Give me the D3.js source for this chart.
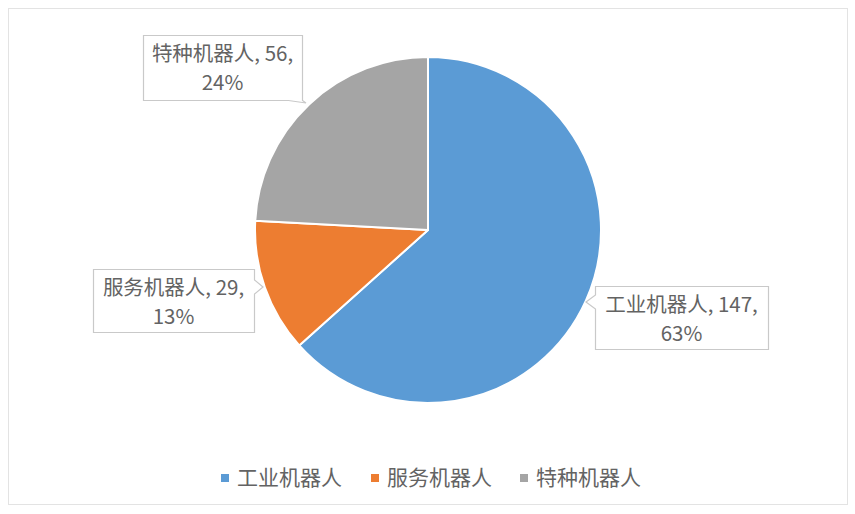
<!DOCTYPE html>
<html><head><meta charset="utf-8">
<script src="https://cdn.jsdelivr.net/npm/d3@7"></script>
<style>
html,body{margin:0;padding:0;background:#fff;}
svg{display:block;font-family:"Noto Sans CJK SC","Noto Sans",sans-serif;}
</style></head>
<body>
<svg id="c" width="855" height="514"></svg>
<script>
const categories = ["工业机器人", "服务机器人", "特种机器人"];
const values = [147, 29, 56];
const percents = ["63%", "13%", "24%"];
const colors = ["#5B9BD5", "#ED7D31", "#A5A5A5"];

// label box layout (x, y, w, h, pointer side, pointer tip)
const boxLayout = [
  {x: 595, y: 286, w: 173, h: 63, side: "left", tip: [586, 302]},
  {x: 93, y: 269, w: 161, h: 63, side: "right", tip: [263, 287]},
  {x: 143, y: 35, w: 159, h: 65, side: "bottom", tip: [306, 103]}
];

const svg = d3.select("#c");
svg.append("rect").attr("x", 8.5).attr("y", 8.5).attr("width", 839).attr("height", 496)
  .attr("fill", "#fff").attr("stroke", "#e3e3e3").attr("stroke-width", 1);

const cx = 428, cy = 230, r = 173;
const pie = d3.pie().sort(null).value(d => d)(values);
const arc = d3.arc().innerRadius(0).outerRadius(r);
const g = svg.append("g").attr("transform", `translate(${cx},${cy})`);
g.selectAll("path").data(pie).join("path")
  .attr("d", arc).attr("fill", (d, i) => colors[i])
  .attr("stroke", "#fff").attr("stroke-width", 2).attr("stroke-linejoin", "round");

// label boxes
boxLayout.forEach((b, i) => {
  const x0 = b.x + 0.5, y0 = b.y + 0.5, x1 = b.x + b.w + 0.5, y1 = b.y + b.h + 0.5;
  let p;
  if (b.side === "left") {
    const py = b.tip[1];
    p = `M${x0},${y0}H${x1}V${y1}H${x0}V${py + 7}L${b.tip[0]},${py}L${x0},${py - 7}Z`;
  } else if (b.side === "right") {
    const py = b.tip[1];
    p = `M${x0},${y0}H${x1}V${py - 7}L${b.tip[0]},${py}L${x1},${py + 7}V${y1}H${x0}Z`;
  } else {
    p = `M${x0},${y0}H${x1}V${y1}L${b.tip[0]},${b.tip[1]}L${x1 - 14},${y1}H${x0}Z`;
  }
  svg.append("path").attr("d", p).attr("fill", "#fff").attr("stroke", "#c9c9c9").attr("stroke-width", 1.2);
  const tx = b.x + b.w / 2;
  const t = svg.append("text").attr("text-anchor", "middle").attr("fill", "#636363").attr("font-size", 20.5);
  t.append("tspan").attr("x", tx).attr("y", b.y + 26).text(`${categories[i]}, ${values[i]},`);
  t.append("tspan").attr("x", tx).attr("y", b.y + 55).text(percents[i]);
});

// legend
const legendX = [221, 371, 520];
const lg = svg.append("g");
categories.forEach((c, i) => {
  lg.append("rect").attr("x", legendX[i]).attr("y", 474).attr("width", 8).attr("height", 8).attr("fill", colors[i]);
  lg.append("text").attr("x", legendX[i] + 16).attr("y", 485).attr("fill", "#636363")
    .attr("font-size", 21).text(c);
});
</script>
</body></html>
